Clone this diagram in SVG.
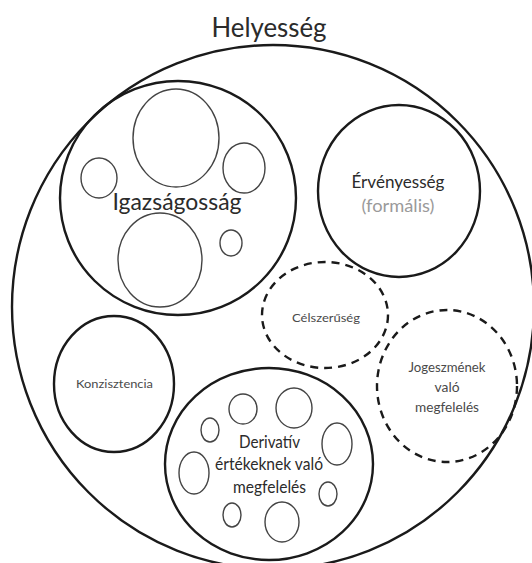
<svg xmlns="http://www.w3.org/2000/svg" width="532" height="563" viewBox="0 0 532 563">
  <style>
    .main { fill: none; stroke: #1a1a1a; stroke-width: 2.4; }
    .dash { fill: none; stroke: #1a1a1a; stroke-width: 2.4; stroke-dasharray: 8 6; }
    .sub { fill: none; stroke: #444; stroke-width: 1.4; }
    text { font-family: Lato, "Liberation Sans", sans-serif; text-anchor: middle; fill: #2b2b2b; }
    .small { fill: #4a4a4a; }
    .gray { fill: #9a9a9a; }
  </style>
  <rect width="532" height="563" fill="#fff"/>

  <g id="helyesseg">
    <ellipse class="main" cx="273" cy="307" rx="261" ry="262"/>
    <text x="269" y="37" font-size="26" textLength="115" lengthAdjust="spacingAndGlyphs">Helyesség</text>
  </g>

  <g id="igazsagossag">
    <ellipse class="main" cx="178" cy="198" rx="118" ry="117"/>
    <ellipse class="sub" cx="176" cy="138" rx="43" ry="49"/>
    <ellipse class="sub" cx="244" cy="168" rx="21" ry="25"/>
    <ellipse class="sub" cx="99" cy="178" rx="18" ry="20"/>
    <ellipse class="sub" cx="160" cy="260" rx="42" ry="47"/>
    <ellipse class="sub" cx="231" cy="243" rx="11" ry="13"/>
    <text x="177" y="210" font-size="24" textLength="129" lengthAdjust="spacingAndGlyphs">Igazságosság</text>
  </g>

  <g id="ervenyesseg">
    <ellipse class="main" cx="399" cy="191" rx="81" ry="86"/>
    <text x="398" y="188" font-size="17" textLength="93" lengthAdjust="spacingAndGlyphs">Érvényesség</text>
    <text class="gray" x="398" y="212" font-size="17" textLength="73" lengthAdjust="spacingAndGlyphs">(formális)</text>
  </g>

  <g id="celszeruseg">
    <ellipse class="dash" cx="325" cy="315" rx="63" ry="53"/>
    <text class="small" x="326" y="322" font-size="12" textLength="68" lengthAdjust="spacingAndGlyphs">Célszerűség</text>
  </g>

  <g id="jogeszme">
    <ellipse class="dash" cx="447" cy="386" rx="70" ry="76"/>
    <text class="small" x="447" y="372" font-size="12.5" textLength="77" lengthAdjust="spacingAndGlyphs">Jogeszmének</text>
    <text class="small" x="447" y="392" font-size="12.5" textLength="25" lengthAdjust="spacingAndGlyphs">való</text>
    <text class="small" x="447" y="412" font-size="12.5" textLength="64" lengthAdjust="spacingAndGlyphs">megfelelés</text>
  </g>

  <g id="konzisztencia">
    <ellipse class="main" cx="114" cy="384" rx="60" ry="68"/>
    <text class="small" x="114.5" y="388" font-size="12" textLength="77" lengthAdjust="spacingAndGlyphs">Konzisztencia</text>
  </g>

  <g id="derivativ">
    <ellipse class="main" cx="269" cy="464" rx="104" ry="96"/>
    <ellipse class="sub" cx="243" cy="409" rx="14" ry="15"/>
    <ellipse class="sub" cx="294" cy="408" rx="18" ry="20"/>
    <ellipse class="sub" cx="210" cy="430" rx="9" ry="12"/>
    <ellipse class="sub" cx="337" cy="444" rx="15" ry="21"/>
    <ellipse class="sub" cx="194" cy="473" rx="15" ry="21"/>
    <ellipse class="sub" cx="328" cy="494" rx="9" ry="12"/>
    <ellipse class="sub" cx="232" cy="515" rx="9" ry="12"/>
    <ellipse class="sub" cx="282" cy="522" rx="17" ry="20"/>
    <text x="269.5" y="448" font-size="17" textLength="61" lengthAdjust="spacingAndGlyphs">Derivatív</text>
    <text x="269" y="470" font-size="17" textLength="108" lengthAdjust="spacingAndGlyphs">értékeknek való</text>
    <text x="269.5" y="493" font-size="17" textLength="73" lengthAdjust="spacingAndGlyphs">megfelelés</text>
  </g>

  <g id="connectors"/>
</svg>
